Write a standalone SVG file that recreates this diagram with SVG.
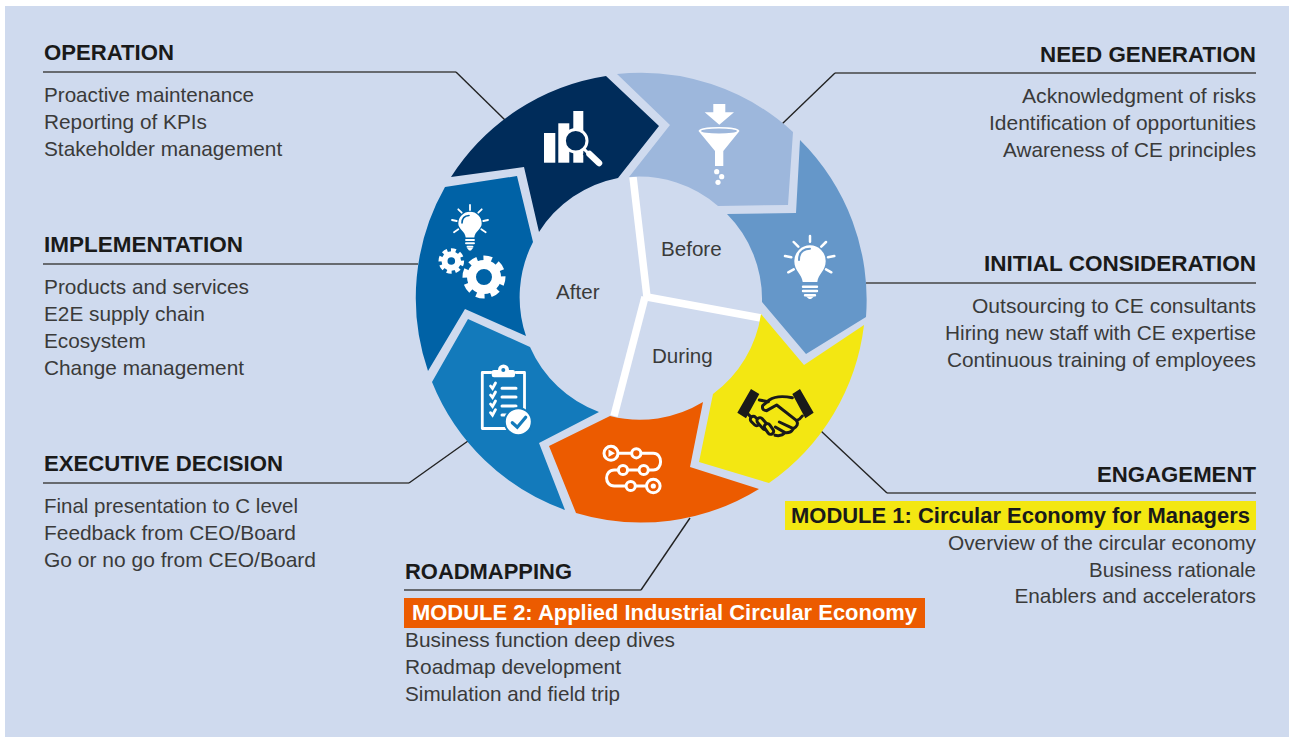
<svg xmlns="http://www.w3.org/2000/svg" width="1289" height="737" viewBox="0 0 1289 737">
<style>
text{font-family:"Liberation Sans",Arial,sans-serif}
.h{font-size:22.2px;font-weight:700;fill:#1a1a1a}
.b{font-size:20.8px;fill:#3a3a3a}
.m{font-size:21.9px;font-weight:700}
.c{font-size:20.6px;fill:#3a3a3a}
.e{text-anchor:end}
.rule{stroke:#444;stroke-width:1.6;fill:none}
.diag{stroke:#222;stroke-width:1.4;fill:none}
.w{fill:#fff}
.ws{fill:none;stroke:#fff;stroke-linecap:round}
</style>
<rect x="0" y="0" width="1289" height="737" fill="#fff"/>
<rect x="5" y="6" width="1284" height="731" fill="#cfdaee"/>
<g id="connectors">
<path class="rule" d="M43 72H456"/><path class="diag" d="M456 72L505 120"/>
<path class="rule" d="M43 264H418"/>
<path class="rule" d="M43 483H409"/><path class="diag" d="M409 483L468 441"/>
<path class="rule" d="M404 590H641"/><path class="diag" d="M641 590L690 518"/>
<path class="rule" d="M887 493H1256"/><path class="diag" d="M887 493L821 431"/>
<path class="rule" d="M866 283H1256"/>
<path class="rule" d="M835 73H1256"/><path class="diag" d="M835 73L782 124"/>
</g>
<g id="spokes" fill="none" stroke="#fff" stroke-width="7.5">
<path d="M633 177L647 297L761 318"/><path d="M645 297L614 416"/>
</g>
<g id="operation">
<path fill="#002c5a" d="M451 177A225 225 0 0 1 606 76L659 126L618 178A121 121 0 0 0 539 232L524 167Z"/>
<rect class="w" x="544" y="133" width="11.3" height="29.7"/><rect class="w" x="558.3" y="123.3" width="11" height="39.4"/><rect class="w" x="573.3" y="111" width="10" height="51.7"/>
<circle cx="575.7" cy="140.7" r="11.3" fill="#002c5a" stroke="#fff" stroke-width="3"/>
<path fill="none" stroke="#002c5a" stroke-width="9" d="M586 151L592 157"/>
<path class="ws" stroke-width="3" d="M584 149L590 155"/><path class="ws" stroke-width="6.5" d="M589.5 154L599 163"/>
<text class="h" x="44" y="60" textLength="130" lengthAdjust="spacingAndGlyphs">OPERATION</text>
<text class="b" x="44" y="102" textLength="210" lengthAdjust="spacingAndGlyphs">Proactive maintenance</text>
<text class="b" x="44" y="129">Reporting of KPIs</text>
<text class="b" x="44" y="156">Stakeholder management</text>
</g>
<g id="need-generation">
<path fill="#9db7dc" d="M617 74A225 225 0 0 1 793 132L788 205L718 206A121 121 0 0 0 629 177L670 125Z"/>
<path class="w" d="M713.3 104H725.3V112.3H734L719.3 124.7L704.7 112.3H713.3Z"/>
<path class="w" d="M698.5 131Q700 127 719 127Q738 127 739.5 131L723.3 151V166H715V151Z"/>
<ellipse cx="719" cy="131" rx="18" ry="2.6" fill="#9db7dc"/>
<circle class="w" cx="716.7" cy="171.7" r="2.6"/><circle class="w" cx="721.7" cy="176.7" r="2.6"/><circle class="w" cx="718" cy="182.3" r="2.6"/>
<text class="h e" x="1256" y="62" textLength="216" lengthAdjust="spacingAndGlyphs">NEED GENERATION</text>
<text class="b e" x="1256" y="103" textLength="234" lengthAdjust="spacingAndGlyphs">Acknowledgment of risks</text>
<text class="b e" x="1256" y="130" textLength="267" lengthAdjust="spacingAndGlyphs">Identification of opportunities</text>
<text class="b e" x="1256" y="157" textLength="253" lengthAdjust="spacingAndGlyphs">Awareness of CE principles</text>
</g>
<g id="initial-consideration">
<path fill="#6597c9" d="M800 140A225 225 0 0 1 866 317L806 354L762 302A121 121 0 0 0 727 214L796 213Z"/>
<path class="w" d="M802.7 282C802 274 794.3 271 794.3 261A15.7 15.7 0 0 1 825.7 261C825.7 271 818 274 817.3 282Z"/>
<path fill="none" stroke="#6597c9" stroke-width="2" stroke-linecap="round" d="M799 260Q799 249 810 248.7"/>
<path class="ws" stroke-width="2.4" d="M803 286.7H817M803 291H817M805 295.3H815"/>
<path class="w" d="M806 296.5H814L811 299H809Z"/>
<path class="ws" stroke-width="2.5" d="M810 236V241.7M793.7 242L798.3 246.7M826 242L821.3 246.7M785 256L791.3 257.3M834.3 256L828 257.3M788.3 272.3L793.7 269.3M831.3 272.3L826 269.3"/>
<text class="h e" x="1256" y="271" textLength="272" lengthAdjust="spacingAndGlyphs">INITIAL CONSIDERATION</text>
<text class="b e" x="1256" y="313" textLength="284" lengthAdjust="spacingAndGlyphs">Outsourcing to CE consultants</text>
<text class="b e" x="1256" y="340" textLength="311" lengthAdjust="spacingAndGlyphs">Hiring new staff with CE expertise</text>
<text class="b e" x="1256" y="367" textLength="309" lengthAdjust="spacingAndGlyphs">Continuous training of employees</text>
</g>
<g id="engagement">
<path fill="#f3e712" d="M864 325A225 225 0 0 1 769 483L699 462L713 394A121 121 0 0 0 761 314L804 365Z"/>
<g transform="translate(620 290) scale(.3333)">
<path fill="#1a1a1a" d="M393 297L418 312L378 385L352 368ZM540 297L517 312L556 385L581 368Z"/>
<g fill="none" stroke="#1a1a1a" stroke-width="9" stroke-linecap="round" stroke-linejoin="round">
<path d="M517 323C490 318 465 318 448 330L428 347Q425 362 440 362L470 345L530 392Q540 388 547 378"/>
<path d="M530 392Q538 406 520 416L478 396M520 416Q512 430 495 428L466 411M495 428Q485 440 465 436"/>
<path d="M418 330L445 335M385 373L397 385"/>
<path stroke-width="27" d="M400 388L410 398"/><path stroke="#f3e712" stroke-width="9" d="M400 388L410 398"/>
<path stroke-width="27" d="M420 392L436 410"/><path stroke="#f3e712" stroke-width="9" d="M420 392L436 410"/>
<path stroke-width="27" d="M442 410L452 424"/><path stroke="#f3e712" stroke-width="9" d="M442 410L452 424"/>
</g></g>
<text class="h e" x="1256" y="482">ENGAGEMENT</text>
<rect x="785" y="501" width="471" height="29" fill="#f3e712"/>
<text class="m" x="791" y="523" fill="#1a1a1a" textLength="459" lengthAdjust="spacingAndGlyphs">MODULE 1: Circular Economy for Managers</text>
<text class="b e" x="1256" y="550" textLength="308" lengthAdjust="spacingAndGlyphs">Overview of the circular economy</text>
<text class="b e" x="1256" y="577" textLength="167" lengthAdjust="spacingAndGlyphs">Business rationale</text>
<text class="b e" x="1256" y="603">Enablers and accelerators</text>
</g>
<g id="roadmapping">
<path fill="#ec5b00" d="M759 489A225 225 0 0 1 576 513L549 446L610 416A121 121 0 0 0 703 402L690 467Z"/>
<path class="ws" stroke-width="3" d="M618 453.3H653.3C663 453.3 663 470 653.3 470H614.3C604 470 604 486 614.3 486H646"/>
<g fill="#ec5b00" stroke="#fff" stroke-width="3">
<circle cx="611" cy="453.3" r="7"/><circle cx="636.3" cy="453.3" r="4.6"/><circle cx="623" cy="470" r="4.6"/><circle cx="643.7" cy="470" r="4.6"/><circle cx="630.7" cy="486" r="4.6"/><circle cx="653.3" cy="486" r="6.8"/>
</g>
<path class="w" d="M608.5 449.5L615 453.3L608.5 457Z"/><circle class="w" cx="653.3" cy="486" r="2.6"/>
<text class="h" x="405" y="579" textLength="167" lengthAdjust="spacingAndGlyphs">ROADMAPPING</text>
<rect x="404" y="598" width="521" height="30" fill="#ec5b00"/>
<text class="m" x="412" y="620" fill="#fff" textLength="505" lengthAdjust="spacingAndGlyphs">MODULE 2: Applied Industrial Circular Economy</text>
<text class="b" x="405" y="647" textLength="270" lengthAdjust="spacingAndGlyphs">Business function deep dives</text>
<text class="b" x="405" y="674" textLength="216" lengthAdjust="spacingAndGlyphs">Roadmap development</text>
<text class="b" x="405" y="701" textLength="215" lengthAdjust="spacingAndGlyphs">Simulation and field trip</text>
</g>
<g id="executive-decision">
<path fill="#137abb" d="M565 510A225 225 0 0 1 432 382L468 319L530 347A121 121 0 0 0 599 412L539 443Z"/>
<path class="ws" stroke-width="2.8" stroke-linejoin="round" d="M491 372.5H482.3V428.5H510M516 372.5H524.5V410"/>
<path class="w" d="M491.7 372Q491.7 370 494 370H498A5.5 5.5 0 0 1 509 370H513Q515 370 515 372V375Q515 377.3 513 377.3H494Q491.7 377.3 491.7 375Z"/>
<circle cx="503.3" cy="370" r="2" fill="#137abb"/>
<path class="ws" stroke-width="2.8" d="M490.5 386L492.5 388.5L495.5 383M490.5 395L492.5 397.5L495.5 392M490.5 404L492.5 406.5L495.5 401M490.5 412.7L492.5 415.2L495.5 409.7"/>
<path class="ws" stroke-width="3" d="M502 388.3H516M502 397H516M502 406H516M502 415H507"/>
<circle cx="518.3" cy="421.7" r="13.5" fill="#fff" stroke="#137abb" stroke-width="2"/>
<path fill="none" stroke="#137abb" stroke-linecap="round" stroke-width="3.2" d="M512.3 422.7L517.3 427.3L525.7 417.3"/>
<text class="h" x="44" y="471" textLength="239" lengthAdjust="spacingAndGlyphs">EXECUTIVE DECISION</text>
<text class="b" x="44" y="513" textLength="254" lengthAdjust="spacingAndGlyphs">Final presentation to C level</text>
<text class="b" x="44" y="540" textLength="252" lengthAdjust="spacingAndGlyphs">Feedback from CEO/Board</text>
<text class="b" x="44" y="567" textLength="272" lengthAdjust="spacingAndGlyphs">Go or no go from CEO/Board</text>
</g>
<g id="implementation">
<path fill="#0062a6" d="M428 371A225 225 0 0 1 445 187L517 176L533 242A121 121 0 0 0 526 336L465 309Z"/>
<path class="w" d="M465.7 237.5C465 231 458.3 229 458.3 223.5A11.7 11.7 0 0 1 481.7 223.5C481.7 229 475 231 474.3 237.5Z"/>
<path fill="none" stroke="#0062a6" stroke-width="1.6" stroke-linecap="round" d="M462 223Q462 216 469 215.5"/>
<path class="ws" stroke-width="1.9" d="M466 240H474M466 243.3H474M467.5 246.7H472.5"/>
<path class="w" d="M467 248H473L471 250.5H469Z"/>
<path class="ws" stroke-width="1.8" d="M470 205V210M458.3 209.3L461.7 212.7M481.7 209.3L478.3 212.7M452 220L456.7 221M488 220L483.3 221M454 232.3L458.3 229.3M485.7 232.3L481.3 229.3"/>
<g fill="none" stroke="#fff">
<circle cx="451.3" cy="261" r="6.8" stroke-width="6"/>
<circle cx="451.3" cy="261" r="10.5" stroke-width="4.6" pathLength="16" stroke-dasharray="1.15 .85" stroke-dashoffset=".08"/>
<circle cx="484" cy="277" r="12.5" stroke-width="9"/>
<circle cx="484" cy="277" r="18.5" stroke-width="6" pathLength="16" stroke-dasharray="1.15 .85" stroke-dashoffset=".08"/>
</g>
<text class="h" x="44" y="252" textLength="199" lengthAdjust="spacingAndGlyphs">IMPLEMENTATION</text>
<text class="b" x="44" y="294" textLength="205" lengthAdjust="spacingAndGlyphs">Products and services</text>
<text class="b" x="44" y="321">E2E supply chain</text>
<text class="b" x="44" y="348">Ecosystem</text>
<text class="b" x="44" y="375">Change management</text>
</g>
<g id="phase-labels">
<text class="c" x="556" y="299">After</text>
<text class="c" x="661" y="256">Before</text>
<text class="c" x="652" y="363">During</text>
</g>
</svg>
